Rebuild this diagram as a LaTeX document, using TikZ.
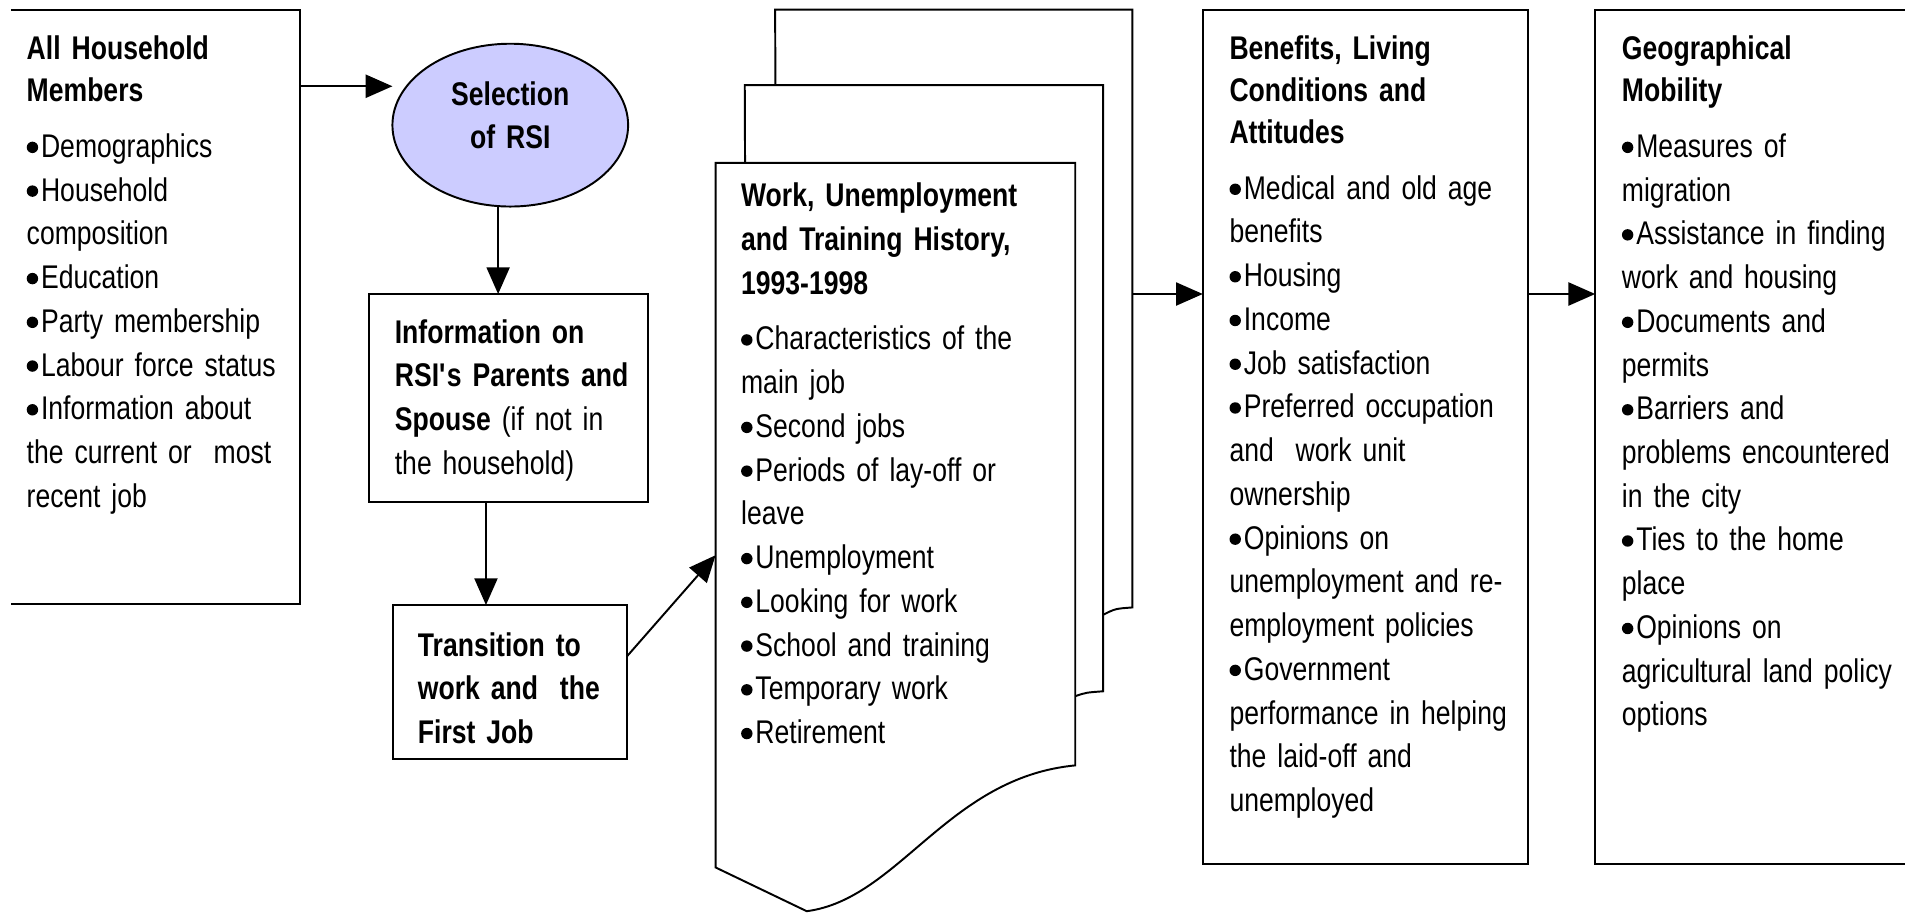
\documentclass[tikz,border=0pt]{standalone}
\usepackage{fontspec}
\setmainfont{Liberation Sans}[FakeStretch=0.81,WordSpace=0.7]
\usetikzlibrary{arrows.meta,shapes.geometric,calc}
\definecolor{selfill}{HTML}{CCCCFF}
\newcommand\bul{\tikz[x=1pt,y=1pt,baseline=0pt]{\fill[black] (4.7pt,8.2pt) circle[radius=4.7pt];}\hspace{2.4pt}}
\begin{document}
\begin{tikzpicture}[x=1pt,y=-1pt,
  ln/.style={line width=1.6pt},
  arr/.style={line width=1.6pt,-{Triangle[length=22pt,width=19pt]}},
  txt/.style={anchor=base west,inner sep=0pt,outer sep=0pt,text width=270pt,align=left,font=\fontsize{27}{36}\selectfont},
  boxshape/.style={rectangle,inner sep=0pt,outer sep=0pt},
]
\useasboundingbox[fill=white] (0,0) rectangle (1568,751);

% left box (open on the left)
\node[boxshape,minimum width=238pt,minimum height=489pt] (hh) at (128,252.5) {};
\draw[ln] (hh.north west) -- (hh.north east) -- (hh.south east) -- (hh.south west);

% ellipse
\node[ellipse,draw,ln,fill=selfill,minimum width=194pt,minimum height=134pt,inner sep=0pt,outer sep=0pt] (sel) at (420,103) {};

% info and transition boxes
\node[boxshape,draw,ln,minimum width=229pt,minimum height=171pt] (info) at (418.5,327.5) {};
\node[boxshape,draw,ln,minimum width=192.5pt,minimum height=127pt] (trans) at (420,561.5) {};

% benefits box
\node[boxshape,draw,ln,minimum width=268pt,minimum height=703pt] (ben) at (1124,359.5) {};

% geographical box (open on the right)
\node[boxshape,minimum width=287pt,minimum height=703pt] (geo) at (1456.5,359.5) {};
\draw[ln] (geo.north east) -- (geo.north west) -- (geo.south west) -- (geo.south east);

% stacked pages
\filldraw[ln,fill=white] (638,8) -- (932,8) -- (932,500) .. controls (918,501) .. (908,506) -- (640,520) -- cycle;
\filldraw[ln,fill=white] (613,70) -- (908,70) -- (908,569) .. controls (894,570) .. (885,573) -- (615,590) -- cycle;
\filldraw[ln,fill=white] (589,134) -- (885,134) -- (885,630) .. controls (780,640) and (740,740) .. (664,750) -- (589,714) -- cycle;

% texts
\node[txt] (hht) at (22,49) {\textbf{All Household}\\[-1.5pt]\textbf{Members}\\[10pt]\bul Demographics\\\bul Household\\composition\\\bul Education\\\bul Party membership\\\bul Labour force status\\\bul Information about\\the current or~ most\\recent job};

\node[anchor=base,inner sep=0pt,outer sep=0pt,text width=180pt,align=center,font=\fontsize{27}{35.5}\selectfont\bfseries] (selt) at (420,86.5) {Selection\\of RSI};

\node[txt] (infot) at (325,282.5) {\textbf{Information on}\\\textbf{RSI\textquotesingle s Parents and}\\\textbf{Spouse} (if not in\\the household)};

\node[txt] (transt) at (344,540) {\textbf{Transition to}\\\textbf{work and~ the}\\\textbf{First Job}};

\node[txt] (workt) at (610,170) {\textbf{Work, Unemployment}\\\textbf{and Training History,}\\\textbf{1993-1998}\\[10pt]\bul Characteristics of the\\main job\\\bul Second jobs\\\bul Periods of lay-off or\\leave\\\bul Unemployment\\\bul Looking for work\\\bul School and training\\\bul Temporary work\\\bul Retirement};

\node[txt] (bent) at (1012,49) {\textbf{Benefits, Living}\\[-1.5pt]\textbf{Conditions and}\\[-1.5pt]\textbf{Attitudes}\\[10pt]\bul Medical and old age\\benefits\\\bul Housing\\\bul Income\\\bul Job satisfaction\\\bul Preferred occupation\\and~ work unit\\ownership\\\bul Opinions on\\unemployment and re-\\employment policies\\\bul Government\\performance in helping\\the laid-off and\\unemployed};

\node[txt] (geot) at (1335,49) {\textbf{Geographical}\\[-1.5pt]\textbf{Mobility}\\[10pt]\bul Measures of\\migration\\\bul Assistance in finding\\work and housing\\\bul Documents and\\permits\\\bul Barriers and\\problems encountered\\in the city\\\bul Ties to the home\\place\\\bul Opinions on\\agricultural land policy\\options};

% connectors
\coordinate (a1) at (0,71);
\draw[arr] (hh.east |- a1) -- (sel.west |- a1);
\coordinate (c1) at (410,0);
\coordinate (c2) at (400,0);
\draw[arr] (sel.south -| c1) -- (c1 |- info.north);
\draw[arr] (info.south -| c2) -- (c2 |- trans.north);
\coordinate (t1) at (0,540);
\coordinate (w1) at (589,457);
\draw[arr] (trans.east |- t1) -- (w1);
\coordinate (b1) at (932,242);
\draw[arr] (b1) -- (ben.west |- b1);
\draw[arr] (ben.east |- b1) -- (geo.west |- b1);
\end{tikzpicture}
\end{document}
